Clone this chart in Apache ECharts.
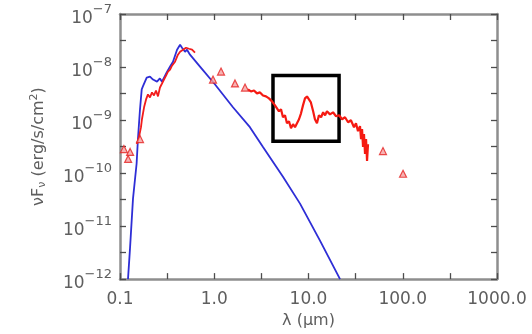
<!DOCTYPE html>
<html>
<head>
<meta charset="utf-8">
<script src="https://cdn.jsdelivr.net/npm/echarts@6/dist/echarts.min.js"></script>
<style>
  html, body { margin: 0; padding: 0; background: #ffffff; }
  #chart { width: 532px; height: 334px; }
</style>
</head>
<body>
<div id="chart"></div>
<script>
// Tick labels along the wavelength axis (one per decade, 0.1 .. 1000 µm)
const xTickLabels = ['0.1', '1.0', '10.0', '100.0', '1000.0'];
// Decade exponents labelled on the flux axis
const yTickExponents = [-12, -11, -10, -9, -8, -7];

// Stellar photosphere model: [wavelength µm, νFν erg/s/cm²]
const modelSed = [
  [0.1216, 1e-12], [0.1277, 3.8e-12], [0.1374, 3.3e-11], [0.150, 1.5e-10],
  [0.155, 4.4e-10], [0.163, 1.6e-9], [0.170, 3.8e-9], [0.175, 4.3e-9],
  [0.184, 5.3e-9], [0.192, 6.3e-9], [0.208, 6.6e-9], [0.224, 5.8e-9],
  [0.247, 5.3e-9], [0.265, 6.1e-9], [0.279, 5.3e-9], [0.316, 8.2e-9],
  [0.340, 1.02e-8], [0.365, 1.26e-8], [0.403, 2.12e-8], [0.434, 2.62e-8],
  [0.455, 2.31e-8], [0.490, 1.94e-8], [0.514, 2.12e-8], [0.553, 1.71e-8],
  [0.706, 1.02e-8], [1.02, 4.68e-9], [1.58, 1.74e-9], [2.39, 7.33e-10],
  [3.29, 3.10e-10], [5.36, 8.49e-11], [8.13, 2.65e-11], [13.2, 5.37e-12],
  [21.6, 1e-12]
];

// Ultraviolet / optical spectrum
const uvOpticalSpectrum = [
  [0.151, 3.52e-10], [0.159, 4.76e-10], [0.167, 7.33e-10], [0.171, 1.035e-9],
  [0.180, 1.74e-9], [0.189, 2.45e-9], [0.198, 3.04e-9], [0.208, 2.67e-9],
  [0.2185, 3.32e-9], [0.2295, 2.91e-9], [0.241, 3.61e-9], [0.253, 2.79e-9],
  [0.2655, 4.11e-9], [0.279, 4.89e-9], [0.293, 5.81e-9], [0.308, 6.90e-9],
  [0.323, 8.20e-9], [0.340, 8.94e-9], [0.356, 1.06e-8], [0.3835, 1.26e-8],
  [0.412, 1.71e-8], [0.434, 1.94e-8], [0.466, 2.12e-8], [0.5015, 2.31e-8],
  [0.540, 2.21e-8], [0.581, 2.12e-8], [0.625, 1.86e-8]
];

// Infrared spectrum with the 10 µm silicate feature
const irSpectrum = [
  [2.28, 3.77e-9], [2.45, 3.46e-9], [2.64, 3.61e-9], [2.84, 3.18e-9],
  [3.06, 3.32e-9], [3.29, 2.91e-9], [3.54, 2.79e-9], [3.81, 2.56e-9],
  [4.10, 2.25e-9], [4.41, 1.89e-9], [4.63, 2.06e-9], [4.86, 1.46e-9],
  [5.11, 1.59e-9], [5.36, 1.13e-9], [5.63, 1.23e-9], [5.91, 8.71e-10],
  [6.21, 9.49e-10], [6.52, 7.02e-10], [6.85, 8.34e-10], [7.19, 7.33e-10],
  [7.55, 8.71e-10], [7.93, 1.035e-9], [8.33, 1.34e-9], [8.74, 1.89e-9],
  [9.18, 2.56e-9], [9.64, 2.79e-9], [10.1, 2.67e-9], [10.6, 2.15e-9],
  [11.2, 1.46e-9], [11.7, 1.035e-9], [12.3, 8.71e-10], [12.9, 1.23e-9],
  [13.6, 1.13e-9], [14.3, 1.40e-9], [15.0, 1.23e-9], [15.7, 1.46e-9],
  [16.9, 1.28e-9], [18.2, 1.40e-9], [19.6, 1.18e-9], [21.1, 1.23e-9],
  [22.7, 1.035e-9], [24.4, 1.13e-9], [26.3, 9.09e-10], [28.2, 9.91e-10],
  [30.4, 7.33e-10], [31.9, 8.71e-10], [33.5, 6.17e-10], [35.2, 7.65e-10],
  [36.1, 4.37e-10], [37.0, 6.73e-10], [37.9, 3.10e-10], [38.8, 5.42e-10],
  [39.8, 2.29e-10], [40.8, 4.37e-10], [41.8, 1.69e-10], [42.8, 3.52e-10]
];

// Broad-band photometry
const photometry = [
  [0.110, 2.84e-10], [0.122, 1.85e-10], [0.128, 2.5e-10], [0.163, 4.37e-10],
  [0.97, 5.8e-9], [1.18, 8.2e-9], [1.66, 4.9e-9], [2.12, 4.1e-9],
  [61.7, 2.6e-10], [100.7, 9.7e-11]
];

// Highlighted wavelength/flux window: [[λmin, Fmax], [λmax, Fmin]]
const highlightWindow = [[4.2, 6.9e-9], [21.1, 4.0e-10]];

const HALF_DECADE = Math.sqrt(10);
const FONT = 'DejaVu Sans';
const TEXT = '#5e5e5e';
const FRAME = '#8e8e8e';

const xMin = Math.pow(10, -1), xMax = Math.pow(10, 3);
const yMin = Math.pow(10, yTickExponents[0]);
const yMax = Math.pow(10, yTickExponents[yTickExponents.length - 1]);

// Decade axis: carries the labels and the axis title only
function labelAxis(extra) {
  return Object.assign({
    type: 'log',
    logBase: 10,
    axisLine: { show: false },
    axisTick: { show: false },
    splitLine: { show: false }
  }, extra);
}

// Frame side: the grey border with inward ticks every half decade
function tickAxis(extra) {
  return Object.assign({
    type: 'log',
    logBase: HALF_DECADE,
    interval: 1,
    axisLine: { show: true, lineStyle: { color: FRAME, width: 2.5 } },
    axisTick: { show: true, inside: true, length: 6, lineStyle: { color: '#4d4d4d', width: 1.3 } },
    axisLabel: { show: false },
    splitLine: { show: false }
  }, extra);
}

const chart = echarts.init(document.getElementById('chart'));
chart.setOption({
  animation: false,
  backgroundColor: '#ffffff',
  grid: { left: 120, right: 35, top: 14, bottom: 53, containLabel: false },
  xAxis: [
    labelAxis({
      position: 'bottom', min: xMin, max: xMax,
      name: 'λ (μm)', nameLocation: 'middle', nameGap: 32,
      nameTextStyle: { color: TEXT, fontFamily: FONT, fontSize: 16 },
      axisLabel: {
        margin: 12, color: TEXT, fontFamily: FONT, fontSize: 17,
        formatter: function (v) {
          return xTickLabels[Math.round(Math.log10(v)) + 1];
        }
      }
    }),
    tickAxis({ position: 'bottom', min: xMin, max: xMax }),
    tickAxis({ position: 'top', min: xMin, max: xMax })
  ],
  yAxis: [
    labelAxis({
      position: 'left', min: yMin, max: yMax,
      name: '{a|νF}{sub|ν}{a| (erg/s/cm}{sup|2}{a|)}',
      nameLocation: 'middle', nameGap: 72,
      nameTextStyle: {
        color: TEXT, fontFamily: FONT, fontSize: 16,
        rich: {
          a: { color: TEXT, fontFamily: FONT, fontSize: 16 },
          sub: { color: TEXT, fontFamily: FONT, fontSize: 11, padding: [8, 0, 0, 0] },
          sup: { color: TEXT, fontFamily: FONT, fontSize: 11, padding: [0, 0, 8, 0] }
        }
      },
      axisLabel: {
        margin: 8, color: TEXT, fontFamily: FONT,
        formatter: function (v) {
          const d = Math.round(Math.log10(v));
          return yTickExponents.indexOf(d) < 0 ? '' : '{b|10}{s|−' + Math.abs(d) + '}';
        },
        rich: {
          b: { color: TEXT, fontFamily: FONT, fontSize: 17, padding: [9, 0, 0, 0] },
          s: { color: TEXT, fontFamily: FONT, fontSize: 13, padding: [0, 0, 9, 0] }
        }
      }
    }),
    tickAxis({ position: 'left', min: yMin, max: yMax }),
    tickAxis({ position: 'right', min: yMin, max: yMax })
  ],
  series: [
    {
      name: 'model', type: 'line', data: modelSed, symbol: 'none',
      lineStyle: { color: '#2e2ed6', width: 1.8 }, z: 3, clip: true
    },
    {
      name: 'uv-optical', type: 'line', data: uvOpticalSpectrum, symbol: 'none',
      lineStyle: { color: '#f21c1c', width: 1.8 }, z: 4, clip: true
    },
    {
      name: 'infrared', type: 'line', data: irSpectrum, symbol: 'none',
      lineStyle: { color: '#f51a12', width: 2.2 }, z: 4, clip: true,
      markArea: {
        silent: true,
        itemStyle: { color: 'rgba(0,0,0,0)', borderColor: '#000000', borderWidth: 3.5 },
        data: [[{ coord: highlightWindow[0] }, { coord: highlightWindow[1] }]]
      }
    },
    {
      name: 'photometry', type: 'scatter', data: photometry, symbol: 'triangle', symbolSize: 7,
      itemStyle: { color: '#f5a0a0', borderColor: '#e52222', borderWidth: 1.2 }, z: 5
    }
  ]
});
</script>
</body>
</html>
